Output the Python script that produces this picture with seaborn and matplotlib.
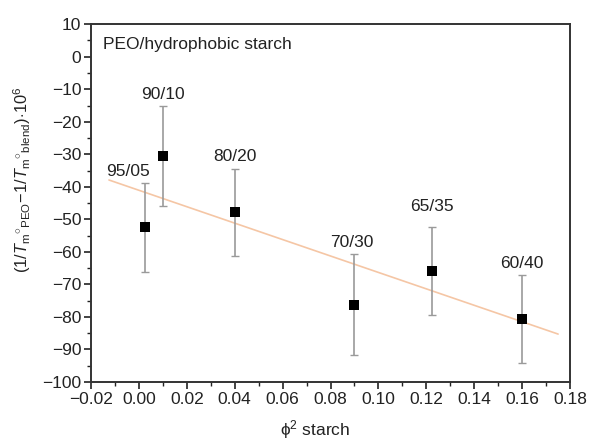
import numpy as np
import pandas as pd
import matplotlib
matplotlib.use("Agg")
import matplotlib.pyplot as plt
import seaborn as sns

# ---- data ----
labels = ["95/05", "90/10", "80/20", "70/30", "65/35", "60/40"]
phi2 = [0.0025, 0.010, 0.040, 0.090, 0.1225, 0.160]
yval = [-52.5, -30.6, -47.9, -76.3, -65.8, -80.7]
yerr = [13.7, 15.3, 13.5, 15.5, 13.5, 13.6]
fit_range = [-0.0125, 0.175]
xticks = [-0.02, 0.00, 0.02, 0.04, 0.06, 0.08, 0.10, 0.12, 0.14, 0.16, 0.18]
yticks = [10, 0, -10, -20, -30, -40, -50, -60, -70, -80, -90, -100]

df = pd.DataFrame({"phi2": phi2, "y": yval, "err": yerr, "label": labels})

sns.set_theme(style="ticks")
plt.rcParams["font.family"] = ["Liberation Sans", "DejaVu Sans"]
plt.rcParams["mathtext.fontset"] = "custom"
plt.rcParams["mathtext.rm"] = "Liberation Sans"
plt.rcParams["mathtext.it"] = "Liberation Sans:italic"
plt.rcParams["mathtext.bf"] = "Liberation Sans:bold"

fig = plt.figure(figsize=(5.92, 4.40), dpi=100)
ax = fig.add_axes([0.1537, 0.132, 0.8093, 0.813])

# regression line over the reference's drawn range
ax.set_xlim(fit_range[0], fit_range[1])
sns.regplot(data=df, x="phi2", y="y", ax=ax, scatter=False, ci=None,
            truncate=False, line_kws=dict(color="#f5c6a5", lw=1.2))

ax.errorbar(df["phi2"], df["y"], yerr=df["err"], fmt="none",
            ecolor="#9a9a9a", elinewidth=1.2, capsize=3, capthick=1.0, zorder=3)
sns.scatterplot(data=df, x="phi2", y="y", ax=ax, marker="s", color="black",
                s=55, edgecolor="black", linewidth=0, zorder=4)

offsets = [(-12, 3), (0, 3), (0, 3), (-2, 3), (0, 9), (0, 3)]
for lab, x, y, e, off in zip(labels, phi2, yval, yerr, offsets):
    ax.annotate(lab, (x, y + e), xytext=off, textcoords="offset points",
                ha="center", va="bottom", fontsize=12.5, color="#222222")

ax.text(0.025, 0.944, "PEO/hydrophobic starch", transform=ax.transAxes,
        ha="left", va="center", fontsize=12.5, color="#222222")

ax.set_xlim(-0.02, 0.18)
ax.set_ylim(-100, 10)
ax.set_xticks(xticks)
ax.set_xticklabels([f"{t:.2f}".replace("-", "\u2212") for t in xticks])
ax.set_yticks(yticks)
ax.set_yticklabels([f"{t}".replace("-", "\u2212") for t in yticks])
ax.set_xticks(np.arange(-0.02, 0.1801, 0.01), minor=True)
ax.set_yticks(np.arange(-100, 10.1, 5), minor=True)
ax.tick_params(which="major", direction="out", length=5, width=1.2,
               labelsize=12.5, colors="#222222", top=False, right=False, pad=2)
ax.tick_params(which="minor", direction="out", length=3, width=1.0,
               colors="#222222", top=False, right=False)
for s in ax.spines.values():
    s.set_visible(True)
    s.set_linewidth(1.4)
    s.set_color("#333333")

ax.set_xlabel("\u03d5$^{2}$ starch", fontsize=12.5, color="#222222")
ax.xaxis.set_label_coords(0.468, -0.10)
ax.set_ylabel(r"$(1/T_{\mathrm{m}}{}^{\circ}{}_{\mathrm{PEO}}\!-\!1/T_{\mathrm{m}}{}^{\circ}{}_{\mathrm{blend}})\!\cdot\!10^{6}$",
              fontsize=11.8, color="#222222")
ax.yaxis.set_label_coords(-0.121, 0.565)

fig.savefig("out.png", dpi=100)
